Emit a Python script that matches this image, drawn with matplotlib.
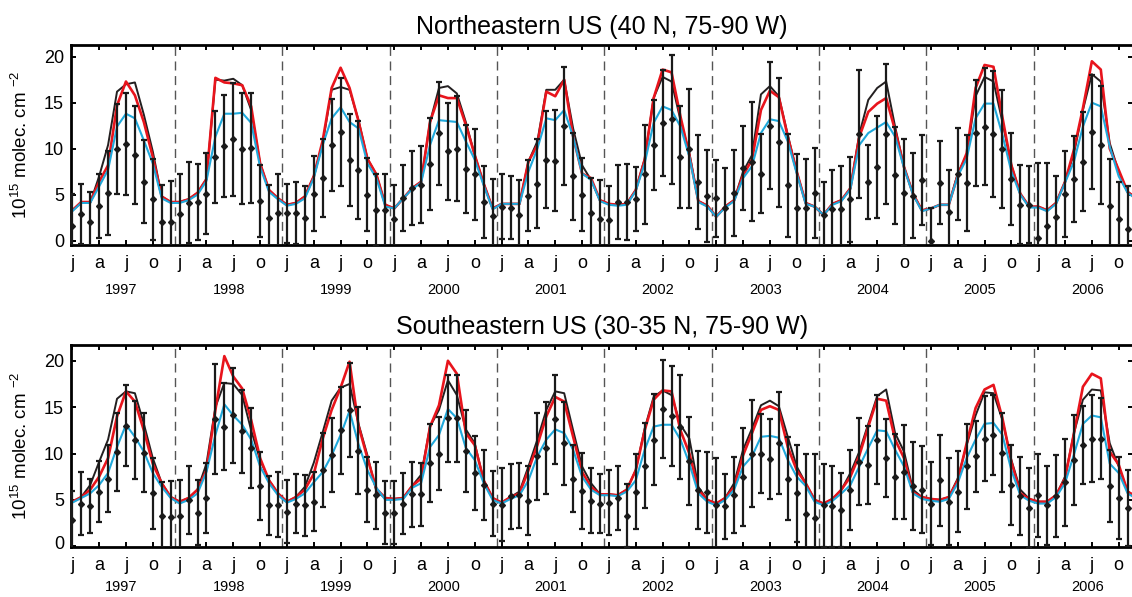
import numpy as np
import matplotlib.pyplot as plt
from matplotlib.transforms import ScaledTranslation

plt.rcParams['font.family'] = 'Liberation Sans'
plt.rcParams['mathtext.fontset'] = 'custom'
plt.rcParams['mathtext.rm'] = 'Liberation Sans'

years = [1997, 1998, 1999, 2000, 2001, 2002, 2003, 2004, 2005, 2006]
month_labels = ['j', 'a', 'j', 'o']

# ---- Northeastern US (monthly, Jan 1997 .. Dec 2006) ----
obs_ne = [1.6, 2.9, 2.0, 3.8, 5.2, 10.0, 10.5, 9.3, 6.4, 4.5, 2.0, 2.0,
          2.9, 4.1, 4.2, 5.1, 9.1, 10.3, 11.0, 10.0, 10.1, 4.3, 2.5, 3.0,
          3.0, 3.0, 2.5, 5.1, 6.8, 10.4, 11.8, 8.8, 7.7, 5.0, 3.3, 3.3,
          2.4, 4.6, 5.7, 6.1, 8.3, 11.7, 9.7, 10.0, 7.8, 7.2, 4.2, 2.7,
          3.7, 3.6, 2.8, 4.9, 6.2, 8.8, 8.7, 12.5, 7.0, 5.0, 3.0, 2.4,
          2.3, 4.2, 4.2, 4.5, 7.2, 10.4, 12.8, 13.2, 9.1, 10.0, 6.4, 4.9,
          4.6, 3.6, 5.2, 7.9, 8.6, 7.3, 12.5, 10.7, 6.0, 3.6, 3.6, 5.2,
          2.8, 3.4, 3.4, 4.5, 11.6, 6.4, 8.0, 11.6, 7.1, 5.2, 4.9, 6.6,
          0.0, 6.3, 3.1, 7.2, 6.3, 11.7, 12.4, 11.6, 10.0, 6.7, 3.9, 3.9,
          0.3, 1.6, 2.6, 5.1, 6.7, 8.6, 11.8, 10.4, 3.8, 2.4, 1.3, 2.0]
err_ne = [3.5, 3.3, 3.3, 3.5, 4.6, 4.9, 5.5, 5.3, 4.5, 4.4, 4.0, 4.5,
          4.3, 4.4, 4.1, 4.4, 5.0, 5.5, 6.1, 6.0, 6.0, 3.9, 3.6, 4.2,
          3.2, 3.4, 3.4, 4.1, 4.2, 5.0, 5.9, 5.0, 5.3, 4.0, 3.9, 4.0,
          3.7, 3.6, 4.0, 4.2, 5.0, 5.6, 5.3, 5.7, 4.8, 4.9, 3.9, 4.0,
          3.5, 3.4, 3.8, 3.9, 4.8, 5.3, 5.5, 6.4, 4.7, 4.0, 3.8, 4.2,
          3.6, 4.0, 4.1, 3.5, 5.4, 4.9, 5.8, 7.0, 5.5, 6.5, 5.1, 5.0,
          4.2, 4.3, 4.7, 4.6, 6.5, 4.3, 6.9, 7.0, 5.6, 5.8, 5.3, 4.9,
          3.6, 4.3, 4.7, 4.6, 7.0, 4.0, 5.5, 7.6, 5.3, 5.8, 4.6, 4.9,
          3.5, 4.5, 4.6, 5.0, 5.2, 5.8, 6.4, 6.8, 6.4, 5.0, 4.3, 4.2,
          8.1, 6.8, 4.4, 4.7, 4.7, 5.4, 6.2, 6.4, 5.1, 4.0, 4.6, 4.0]
black_ne = [3.3, 4.1, 4.1, 7.0, 10.4, 16.2, 17.0, 17.2, 13.7, 9.7, 4.8, 4.2,
            4.2, 4.5, 5.2, 6.7, 17.5, 17.4, 17.6, 16.9, 14.2, 8.4, 5.5, 4.6,
            3.9, 4.1, 4.8, 7.0, 10.6, 16.4, 16.7, 16.4, 13.1, 8.9, 7.2, 3.9,
            3.5, 4.6, 5.7, 6.4, 12.9, 16.6, 16.8, 16.0, 12.9, 9.3, 6.2, 3.5,
            4.0, 4.0, 4.0, 8.6, 10.8, 16.4, 16.4, 17.5, 12.2, 8.2, 6.6, 4.4,
            4.0, 3.9, 4.0, 5.5, 8.9, 15.5, 17.8, 17.3, 13.1, 9.5, 4.3, 3.8,
            2.6, 3.7, 4.4, 7.5, 9.3, 15.9, 16.8, 15.7, 11.5, 7.5, 4.1, 3.7,
            2.8, 4.0, 4.4, 5.7, 11.6, 15.3, 16.6, 17.3, 12.4, 8.0, 5.1, 3.3,
            3.5, 3.9, 3.9, 7.3, 9.3, 15.7, 17.8, 17.3, 12.9, 8.2, 5.1, 3.7,
            3.7, 3.3, 4.1, 6.4, 9.5, 14.2, 18.1, 17.3, 10.6, 7.5, 5.3, 4.6]
red_ne = [3.3, 4.2, 4.2, 6.4, 8.2, 14.7, 17.3, 15.8, 12.9, 9.1, 4.8, 4.2,
          4.2, 4.5, 5.2, 6.7, 17.7, 17.2, 17.1, 16.9, 14.6, 8.4, 5.5, 4.6,
          3.9, 4.1, 4.8, 7.0, 10.9, 16.6, 18.8, 16.6, 13.0, 8.9, 7.2, 3.9,
          3.5, 4.6, 5.7, 6.4, 12.9, 15.8, 15.5, 15.5, 12.6, 9.3, 6.2, 3.5,
          4.0, 4.0, 4.0, 8.6, 10.4, 16.2, 15.7, 17.5, 11.3, 7.3, 6.8, 4.4,
          4.0, 3.9, 4.0, 5.5, 8.8, 15.5, 18.6, 18.3, 13.5, 9.3, 4.3, 3.8,
          2.6, 3.7, 4.4, 7.1, 8.8, 14.2, 16.3, 15.6, 11.3, 7.5, 4.1, 3.7,
          2.8, 4.0, 4.4, 5.7, 11.3, 14.0, 14.9, 15.5, 12.0, 8.0, 5.1, 3.3,
          3.5, 3.9, 3.9, 7.1, 9.5, 16.6, 19.1, 18.9, 13.4, 8.2, 5.1, 3.7,
          3.7, 3.3, 4.1, 6.4, 9.9, 14.4, 19.5, 18.6, 10.0, 7.7, 5.3, 4.6]
cyan_ne = [3.2, 4.1, 4.1, 5.9, 7.7, 12.4, 13.8, 13.3, 10.9, 8.4, 4.6, 4.1,
           4.1, 4.4, 5.0, 6.5, 11.3, 13.8, 13.8, 13.9, 12.8, 8.0, 5.3, 4.5,
           3.8, 4.0, 4.6, 6.8, 10.4, 13.3, 14.5, 12.9, 12.2, 8.4, 6.8, 3.7,
           3.5, 4.6, 5.6, 6.3, 10.4, 13.1, 13.0, 12.9, 10.8, 8.8, 6.0, 3.4,
           4.0, 4.0, 4.0, 7.5, 10.0, 13.3, 13.1, 14.2, 11.3, 7.3, 6.6, 4.3,
           3.9, 3.8, 3.9, 5.4, 8.4, 12.8, 14.6, 14.2, 12.4, 9.1, 4.2, 3.7,
           2.6, 3.6, 4.3, 6.8, 8.1, 11.7, 13.2, 13.0, 10.8, 7.3, 4.0, 3.7,
           2.8, 3.9, 4.3, 5.6, 10.4, 11.7, 12.3, 12.9, 11.3, 7.9, 5.0, 3.2,
           3.5, 3.9, 3.9, 7.0, 8.9, 13.3, 14.9, 14.9, 11.5, 7.5, 5.0, 3.6,
           3.6, 3.2, 4.0, 6.3, 8.6, 12.4, 15.0, 14.6, 10.2, 7.0, 5.2, 4.5]

# ---- Southeastern US ----
obs_se = [2.8, 4.6, 4.3, 5.9, 7.3, 10.2, 13.0, 11.5, 10.1, 5.7, 3.3, 3.1,
          3.3, 5.0, 3.6, 5.2, 13.7, 12.9, 14.1, 12.4, 10.6, 6.5, 4.4, 4.5,
          3.7, 4.6, 4.4, 4.8, 8.2, 9.8, 12.5, 14.7, 10.3, 6.1, 5.5, 3.6,
          3.6, 4.6, 5.6, 5.6, 9.0, 10.0, 13.8, 13.8, 10.3, 7.9, 6.6, 4.6,
          4.5, 5.4, 5.5, 4.9, 9.7, 10.6, 13.7, 11.1, 7.3, 6.0, 4.9, 4.6,
          4.7, 5.2, 3.3, 5.9, 8.7, 11.5, 14.8, 14.0, 12.9, 9.2, 6.1, 5.8,
          4.5, 4.3, 5.5, 7.5, 10.0, 10.0, 9.4, 11.1, 7.3, 5.7, 3.5, 3.0,
          4.4, 4.3, 3.9, 6.1, 9.1, 8.8, 11.5, 9.5, 7.5, 8.0, 6.5, 6.1,
          4.6, 7.1, 4.8, 5.9, 8.6, 9.7, 11.6, 12.0, 10.1, 6.6, 5.4, 4.1,
          5.5, 4.4, 5.4, 6.9, 9.3, 10.9, 11.6, 11.6, 6.5, 5.2, 4.1, 4.5]
err_se = [3.2, 3.4, 2.9, 3.3, 3.6, 4.2, 4.4, 4.2, 4.3, 3.8, 3.6, 3.9,
          3.8, 3.7, 3.5, 3.8, 5.9, 4.7, 5.1, 4.5, 4.3, 3.7, 3.2, 3.5,
          3.4, 3.2, 3.3, 3.2, 4.0, 4.0, 4.7, 5.1, 4.7, 3.5, 3.6, 3.4,
          3.4, 3.3, 3.5, 3.4, 4.2, 3.9, 4.7, 4.7, 4.4, 4.0, 3.8, 3.5,
          3.9, 3.5, 3.5, 3.7, 4.7, 5.0, 4.8, 4.5, 3.6, 4.1, 3.5, 3.2,
          3.5, 3.5, 3.4, 4.0, 4.6, 4.9, 5.3, 5.4, 5.6, 4.7, 4.2, 4.4,
          5.0, 3.5, 4.1, 5.3, 5.8, 4.3, 4.3, 5.5, 4.5, 5.2, 6.5, 7.0,
          4.5, 4.4, 4.0, 4.3, 4.7, 4.2, 4.8, 4.2, 4.6, 5.1, 4.7, 4.7,
          4.5, 4.9, 4.7, 4.4, 4.6, 3.8, 4.6, 4.3, 4.3, 4.3, 4.2, 4.3,
          4.5, 4.3, 4.4, 4.7, 4.8, 4.2, 4.7, 4.4, 3.9, 4.4, 4.1, 4.0]
black_se = [4.8, 5.3, 6.6, 9.1, 11.5, 15.9, 16.7, 16.5, 13.2, 9.5, 6.8, 5.3,
            4.8, 5.2, 6.1, 8.9, 15.0, 17.6, 17.5, 16.3, 12.5, 9.3, 7.1, 5.7,
            4.8, 5.3, 6.4, 9.0, 12.3, 15.7, 17.1, 17.5, 13.2, 9.8, 5.9, 5.2,
            5.1, 5.2, 6.5, 7.7, 12.9, 14.7, 17.9, 16.3, 12.6, 11.1, 7.1, 5.2,
            4.7, 5.3, 5.9, 8.6, 11.5, 14.7, 16.7, 16.5, 12.5, 8.6, 6.8, 5.6,
            5.6, 5.5, 6.1, 8.2, 12.7, 16.1, 16.8, 16.3, 13.1, 11.6, 6.4, 5.0,
            4.6, 5.2, 6.8, 10.4, 12.7, 15.2, 15.7, 15.1, 11.8, 8.6, 6.8, 5.0,
            4.6, 5.1, 6.1, 7.9, 10.2, 13.2, 16.2, 16.9, 12.2, 10.2, 6.1, 5.3,
            5.1, 5.0, 5.3, 7.3, 10.9, 14.1, 16.6, 16.5, 13.6, 9.3, 6.1, 5.1,
            4.8, 4.8, 5.5, 7.5, 12.2, 15.8, 16.9, 16.8, 11.1, 8.6, 5.9, 5.3]
red_se = [4.8, 5.3, 6.1, 7.5, 9.5, 14.0, 16.7, 15.6, 12.5, 8.9, 6.8, 5.3,
          4.8, 5.2, 6.1, 8.2, 14.7, 20.5, 18.3, 17.0, 13.6, 9.5, 7.1, 5.7,
          4.8, 5.3, 6.1, 7.8, 11.6, 14.7, 17.1, 19.9, 13.0, 9.5, 6.2, 5.2,
          5.1, 5.2, 6.5, 7.3, 12.9, 15.2, 20.0, 18.6, 12.2, 10.9, 7.1, 5.2,
          4.7, 5.3, 5.7, 8.2, 10.9, 14.0, 16.1, 15.6, 11.8, 8.0, 6.4, 5.6,
          5.6, 5.5, 6.1, 8.2, 12.5, 15.8, 16.8, 16.7, 12.5, 10.0, 6.1, 5.0,
          4.6, 5.2, 6.4, 9.8, 12.2, 14.7, 15.1, 14.7, 10.7, 8.2, 6.8, 5.0,
          4.6, 5.1, 6.1, 7.5, 9.8, 12.9, 15.9, 15.7, 11.5, 9.5, 5.8, 5.3,
          5.1, 5.0, 5.3, 7.1, 11.1, 14.9, 16.9, 17.4, 13.8, 9.1, 5.7, 5.1,
          4.8, 4.8, 5.5, 7.3, 12.2, 17.2, 18.6, 18.1, 10.2, 8.8, 5.9, 5.3]
cyan_se = [4.7, 5.2, 5.7, 6.6, 7.9, 10.7, 13.1, 11.8, 10.2, 7.9, 6.4, 5.2,
           4.6, 5.0, 5.7, 8.0, 12.0, 15.3, 14.1, 13.1, 11.5, 8.6, 6.8, 5.5,
           4.7, 5.1, 5.7, 6.9, 8.0, 9.8, 12.0, 14.6, 11.0, 8.2, 6.3, 5.0,
           5.0, 5.1, 6.3, 6.8, 10.7, 12.0, 14.8, 13.8, 10.6, 9.3, 6.8, 5.0,
           4.6, 5.1, 5.5, 7.1, 9.7, 11.5, 12.6, 12.2, 10.4, 7.5, 6.1, 5.5,
           5.5, 5.4, 5.9, 7.1, 10.4, 12.9, 13.1, 13.1, 11.5, 8.9, 5.7, 4.8,
           4.4, 5.0, 6.1, 8.6, 9.7, 11.8, 11.9, 11.7, 9.3, 7.5, 6.5, 4.8,
           4.4, 4.9, 5.7, 6.6, 8.6, 10.6, 12.5, 12.4, 10.4, 8.6, 5.7, 5.1,
           4.9, 4.8, 5.1, 6.8, 9.5, 11.5, 13.2, 13.3, 12.0, 8.2, 5.5, 4.9,
           4.6, 4.6, 5.3, 6.8, 9.9, 13.2, 14.1, 13.9, 8.9, 7.9, 5.7, 5.1]


def draw_panel(ax, obs, err, black, red, cyan, title, ylim, year_y, zero_shift):
    x = np.arange(len(obs))
    # dashed year separators
    for k in range(1, len(years)):
        ax.axvline(12 * k - 0.5, color='#555555', lw=1, dashes=(6.5, 4), zorder=1)
    ax.plot(x, black, color='#231f20', lw=1.4, zorder=2)
    ax.plot(x, red, color='#e8141c', lw=1.9, zorder=2.1)
    ax.plot(x, cyan, color='#1fa9dc', lw=1.5, zorder=2.2)
    ax.errorbar(x, obs, yerr=err, fmt='D', color='#1a1a1a', ms=3, lw=1.6,
                capsize=2.2, capthick=1.6, zorder=3)

    ax.set_xlim(-0.145, 118.6)
    ax.set_ylim(*ylim)
    ax.set_xticks([12 * k + m for k in range(len(years)) for m in (0, 3, 6, 9)])
    ax.set_xticklabels(month_labels * len(years))
    ax.set_yticks([0, 5, 10, 15, 20])
    ax.tick_params(axis='both', direction='in', top=True, right=True,
                   length=3.6, width=1.4, labelsize=13)
    ax.tick_params(axis='x', pad=7.5)
    ax.tick_params(axis='y', pad=5)
    for s in ax.spines.values():
        s.set_linewidth(2)

    # the "0" label sits a little above the bottom spine
    if zero_shift:
        lab = ax.yaxis.get_major_ticks()[0].label1
        lab.set_transform(lab.get_transform() +
                          ScaledTranslation(0, zero_shift / 72, ax.figure.dpi_scale_trans))

    for k, yr in enumerate(years):
        ax.text(12 * k + 5.5, year_y, str(yr), transform=ax.get_xaxis_transform(),
                ha='center', va='baseline', fontsize=10.5)

    ax.set_title(title, fontsize=18, pad=8)
    ax.set_ylabel(r'10$^{\mathregular{15}}$ molec. cm $^{\mathregular{-2}}$', fontsize=13.5)
    ax.yaxis.set_label_coords(-0.0377, 0.5)


fig = plt.figure(figsize=(11.32, 5.97), dpi=100)
ax1 = fig.add_axes([71 / 1132, 352 / 597, 1062 / 1132, 200 / 597])
ax2 = fig.add_axes([71 / 1132, 50.3 / 597, 1062 / 1132, 201.7 / 597])

draw_panel(ax1, obs_ne, err_ne, black_ne, red_ne, cyan_ne,
           'Northeastern US (40 N, 75-90 W)', (-0.47, 21.27), -0.245, 0)
draw_panel(ax2, obs_se, err_se, black_se, red_se, cyan_se,
           'Southeastern US (30-35 N, 75-90 W)', (-0.05, 21.7), -0.222, 3)

fig.savefig('out.png', dpi=100)
